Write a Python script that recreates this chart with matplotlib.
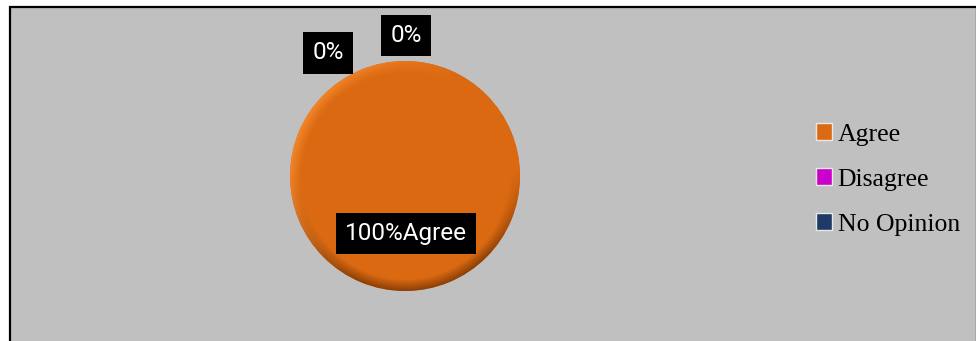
import matplotlib
matplotlib.use("Agg")
import matplotlib.pyplot as plt
import numpy as np
from matplotlib.patches import Rectangle, Circle

# data
categories = ["Agree", "Disagree", "No Opinion"]
values = [100, 0, 0]
slice_colors = ["#DC6A12", "#CC00CC", "#1F3A66"]
label_texts = ["100%Agree", "0%", "0%"]

W, H = 976, 341
fig = plt.figure(figsize=(W / 100, H / 100), dpi=100)
fig.patch.set_facecolor("white")

# chart area (gray box with black border)
fig.patches.append(Rectangle((10 / W, -0.05), (W - 9) / W, (H - 7 + 0.05 * H) / H,
                             transform=fig.transFigure, facecolor="#C0C0C0",
                             edgecolor="black", linewidth=1.6, zorder=-5))

# pie axes, centre at (405, 176) px, radius 115 px
cx, cy, r = 405, 176, 115
ax = fig.add_axes([(cx - r) / W, (H - cy - r) / H, 2 * r / W, 2 * r / H])
ax.set_zorder(2)
ax.set_facecolor("none")
wedges, _ = ax.pie(values, colors=slice_colors, startangle=90, counterclock=False,
                   radius=1, wedgeprops=dict(linewidth=0))

# bevel shading over the full slice, clipped to it
yy, xx = np.mgrid[-1:1:300j, -1:1:300j]
rad = np.sqrt(xx ** 2 + yy ** 2)
shade = np.clip((rad - 0.9) / 0.1, 0, 1) * np.clip(-yy * 1.3 + 0.1, 0, 1)
light = np.clip((rad - 0.9) / 0.1, 0, 1) * np.clip(-xx * 0.8 + yy * 0.4, 0, 1)
base = np.array([0.86, 0.415, 0.07])
dark = np.array([0.55, 0.25, 0.03])
lite = np.array([0.96, 0.54, 0.18])
rgb = base[None, None, :] * (1 - shade[..., None]) + dark[None, None, :] * shade[..., None]
rgb = rgb * (1 - light[..., None]) + lite[None, None, :] * light[..., None]
im = ax.imshow(rgb, extent=(-1, 1, -1, 1), origin="lower", zorder=1.5)
im.set_clip_path(wedges[0])
ax.set_xlim(-1, 1)
ax.set_ylim(-1, 1)
ax.set_aspect("equal")
ax.axis("off")

# data labels
label_pos = [(0.01, -0.50), (-0.67, 1.07), (0.01, 1.22)]
for txt, (lx, ly) in zip(label_texts, label_pos):
    ax.text(lx, ly, txt, ha="center", va="center", color="white",
            family="Roboto", fontsize=17.5, clip_on=False, zorder=5,
            bbox=dict(boxstyle="square,pad=0.38", facecolor="black", edgecolor="none"))

# legend
leg = fig.legend(wedges, categories, loc="upper left",
                 bbox_to_anchor=(806 / W, (H - 113) / H),
                 frameon=False, prop={"family": "Liberation Serif", "size": 18.5},
                 handlelength=0.63, handleheight=0.63, handletextpad=0.2,
                 labelspacing=0.88, borderaxespad=0)
for h in leg.legend_handles:
    h.set_edgecolor("#E8E8E8")
    h.set_linewidth(1.0)

fig.savefig("out.png", dpi=100, facecolor=fig.get_facecolor())
